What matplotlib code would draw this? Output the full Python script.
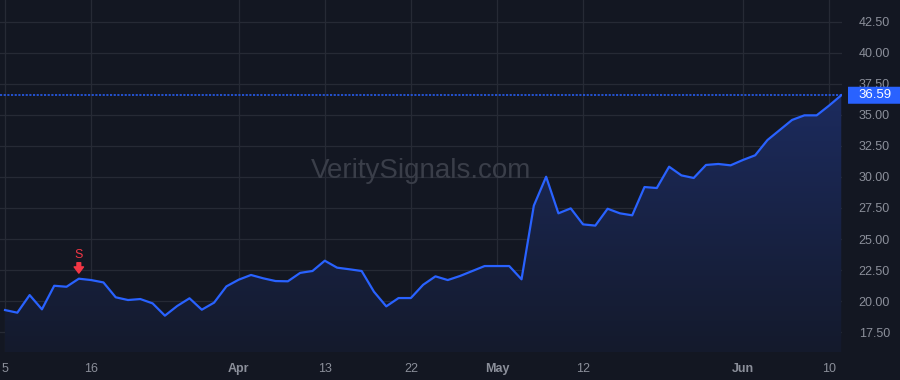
import numpy as np
import matplotlib
matplotlib.use('Agg')
import matplotlib.pyplot as plt
from matplotlib.colors import LinearSegmentedColormap
from matplotlib.patches import FancyBboxPatch
from matplotlib.transforms import blended_transform_factory

# daily closes, 5 Mar 2021 .. 11 Jun 2021 (trading days)
closes = [
    19.27, 19.06, 20.48, 19.33, 21.23, 21.15, 21.80, 21.69, 21.50, 20.30,
    20.08, 20.16, 19.81, 18.82, 19.60, 20.22, 19.30, 19.87, 21.18, 21.72,
    22.10, 21.83, 21.61, 21.59, 22.27, 22.42, 23.25, 22.69, 22.56, 22.42,
    20.75, 19.57, 20.24, 20.24, 21.31, 21.99, 21.69, 22.02, 22.42, 22.82,
    22.82, 22.82, 21.75, 27.69, 30.02, 27.07, 27.47, 26.18, 26.08, 27.44,
    27.07, 26.91, 29.19, 29.11, 30.83, 30.13, 29.92, 30.97, 31.05, 30.94,
    31.37, 31.75, 32.98, 33.79, 34.60, 34.97, 34.97, 35.75, 36.59,
]
tick_idx = [0, 7, 19, 26, 33, 40, 47, 60, 67]
tick_labels = ['5', '16', 'Apr', '13', '22', 'May', '12', 'Jun', '10']
month_labels = {'Apr', 'May', 'Jun'}
price_ticks = [17.5, 20.0, 22.5, 25.0, 27.5, 30.0, 32.5, 35.0, 37.5, 40.0, 42.5]
signal_idx = 6
signal_text = 'S'
last_price = closes[-1]

BG = '#131722'
GRID = '#262a35'
TEXT = '#8b8f9a'
BLUE = '#2962ff'
RED = '#f23645'

x = np.arange(len(closes))
y = np.array(closes)

fig = plt.figure(figsize=(9, 3.8), dpi=100, facecolor=BG)
ax = fig.add_axes([0, 28 / 380, 842 / 900, 352 / 380])
ax.set_facecolor(BG)

ymin, ymax = 15.89, 44.27
ax.set_xlim(-0.41, 68.06)
ax.set_ylim(ymin, ymax)

# gradient area under the line
cmap = LinearSegmentedColormap.from_list(
    'area', [(0, '#141a2c'), (1, '#1c2b5e')])
grad = np.linspace(0, 1, 256).reshape(-1, 1)
im = ax.imshow(grad, aspect='auto', cmap=cmap, origin='lower',
               extent=[x[0], x[-1], ymin, y.max()], zorder=1)
poly = ax.fill_between(x, y, ymin, color='none', zorder=1)
im.set_clip_path(poly.get_paths()[0], transform=ax.transData)

ax.plot(x, y, color=BLUE, lw=1.6, zorder=3, solid_joinstyle='round')
ax.axhline(last_price, color=BLUE, lw=1.1, ls=(0, (1.4, 1.0)), zorder=2)

# grid
ax.set_xticks(tick_idx)
ax.set_yticks(price_ticks)
ax.grid(True, color=GRID, lw=0.9)
ax.set_axisbelow(True)
for s in ax.spines.values():
    s.set_visible(False)

ax.yaxis.tick_right()
ax.tick_params(axis='y', length=0, pad=12, labelsize=9, labelcolor=TEXT)
ax.set_yticklabels(['%.2f' % v for v in price_ticks], family='Liberation Sans')
ax.tick_params(axis='x', length=0, pad=8, labelsize=9, labelcolor=TEXT)
ax.set_xticklabels(tick_labels, family='Liberation Sans')
for lbl in ax.get_xticklabels():
    if lbl.get_text() in month_labels:
        lbl.set_fontweight('bold')

# watermark
ax.text(0.5, 0.515, 'VeritySignals.com', transform=ax.transAxes,
        ha='center', va='center', fontsize=20, color='#3a3e49',
        family='Liberation Sans', zorder=2)

# signal marker
ax.annotate('', xy=(signal_idx, closes[signal_idx]),
            xytext=(0, 11.5), textcoords='offset points',
            xycoords='data', annotation_clip=False,
            arrowprops=dict(arrowstyle='simple,head_length=0.5,head_width=0.75,tail_width=0.3',
                            color=RED, shrinkA=0, shrinkB=4, mutation_scale=9))
ax.annotate(signal_text, xy=(signal_idx, closes[signal_idx]),
            xytext=(0, 17), textcoords='offset points', ha='center',
            va='center', color=RED, fontsize=9, family='Liberation Sans')

# last price label on the price scale
trans = blended_transform_factory(fig.transFigure, ax.transData)
box_h = 17 / 12.4
fig.patches.append(FancyBboxPatch(
    (848 / 900, last_price - box_h / 2), 60 / 900, box_h,
    boxstyle='round,pad=0,rounding_size=0.004', transform=trans,
    fc=BLUE, ec='none', zorder=5))
fig.text(858 / 900, last_price, '%.2f' % last_price, transform=trans,
         ha='left', va='center', color='white', fontsize=9.5,
         family='Liberation Sans', zorder=6)

fig.savefig('out.png', dpi=100, facecolor=BG)
